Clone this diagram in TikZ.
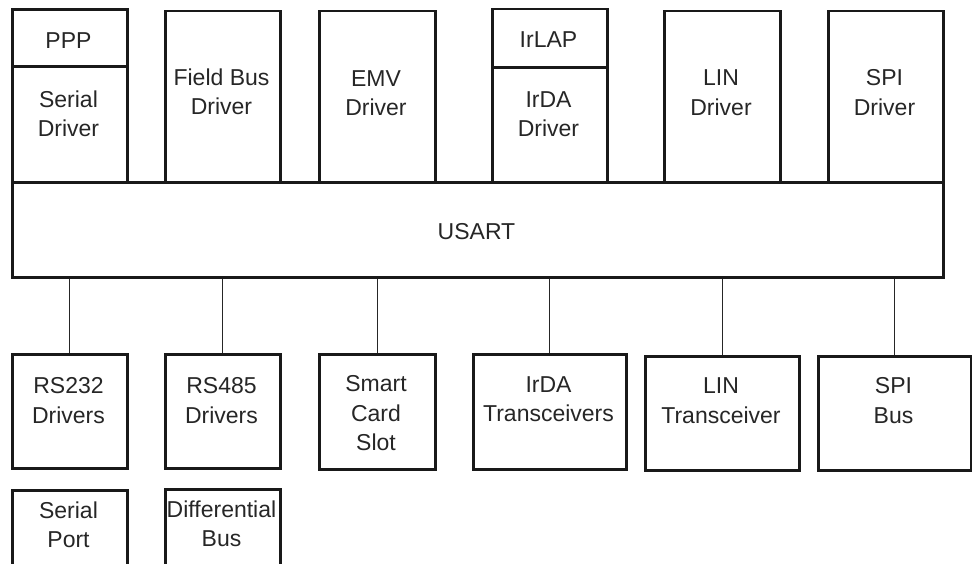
\documentclass[tikz,border=0pt]{standalone}
\usepackage{fontspec}
\setmainfont{Liberation Sans}
\begin{document}
\begin{tikzpicture}[x=1pt,y=-1pt,
  box/.style={draw=black!90, line width=2.6pt, inner sep=0pt, anchor=north west, rectangle},
  lbl/.style={font=\fontsize{23}{29.3}\selectfont, align=center, anchor=base, inner sep=0pt, text=black!85},
  wire/.style={draw=black!85, line width=1.2pt}]
\useasboundingbox (0,0) rectangle (972,563);
\clip (0,0) rectangle (972,563);
% upper layer
\node[box, minimum width=115pt, minimum height=57pt]    (ppp)    at (11,8) {};
\node[box, minimum width=115pt, minimum height=116pt]   (serial) at (11,65) {};
\node[box, minimum width=115pt, minimum height=171.5pt] (field)  at (164,9.5) {};
\node[box, minimum width=116pt, minimum height=171.5pt] (emv)    at (318,9.5) {};
\node[box, minimum width=115pt, minimum height=58.5pt]  (irlap)  at (491,7.5) {};
\node[box, minimum width=115pt, minimum height=115pt]   (irda)   at (491,66) {};
\node[box, minimum width=116pt, minimum height=171.5pt] (lin)    at (663,9.5) {};
\node[box, minimum width=115pt, minimum height=171.5pt] (spi)    at (827,9.5) {};
\node[box, minimum width=931pt, minimum height=95pt]    (usart)  at (11,181) {};
% lower layer
\node[box, minimum width=115pt, minimum height=114pt]   (rs232)  at (11,353) {};
\node[box, minimum width=115pt, minimum height=114pt]   (rs485)  at (164,353) {};
\node[box, minimum width=116pt, minimum height=115pt]   (smart)  at (318,353) {};
\node[box, minimum width=153pt, minimum height=115pt]   (irtr)   at (472,353) {};
\node[box, minimum width=154pt, minimum height=114pt]   (lintr)  at (644,355) {};
\node[box, minimum width=153pt, minimum height=114pt]   (spibus) at (817,355) {};
\node[box, minimum width=115pt, minimum height=100pt]   (sport)  at (11,489) {};
\node[box, minimum width=115pt, minimum height=100pt]   (diff)   at (164,488) {};
% labels (anchor = baseline of last line)
\node[lbl] (tppp)    at (68.5,48.3)  {PPP};
\node[lbl] (tserial) at (68.5,136.4) {Serial\\Driver};
\node[lbl] (tfield)  at (221.5,114.8){Field Bus\\Driver};
\node[lbl] (temv)    at (376,115.3)  {EMV\\Driver};
\node[lbl] (tirlap)  at (548.5,47.7) {IrLAP};
\node[lbl] (tirda)   at (548.5,136.8){IrDA\\Driver};
\node[lbl] (tlin)    at (721,115)    {LIN\\Driver};
\node[lbl] (tspi)    at (884.5,115)  {SPI\\Driver};
\node[lbl] (tusart)  at (476.5,239.3){USART};
\node[lbl] (trs232)  at (68.5,423)   {RS232\\Drivers};
\node[lbl] (trs485)  at (221.5,423)  {RS485\\Drivers};
\node[lbl] (tsmart)  at (376,450.5)  {Smart\\Card\\Slot};
\node[lbl] (tirtr)   at (548.5,421.5){IrDA\\Transceivers};
\node[lbl] (tlintr)  at (721,423)    {LIN\\Transceiver};
\node[lbl] (tspibus) at (893.5,423)  {SPI\\Bus};
\node[lbl] (tsport)  at (68.5,547.5) {Serial\\Port};
\node[lbl] (tdiff)   at (221.5,546.7){Differential\\Bus};
% connectors
\foreach \n in {rs232,rs485,smart,irtr,lintr,spibus}
  \draw[wire] (\n.north) -- (\n.north |- usart.south);
\end{tikzpicture}
\end{document}
